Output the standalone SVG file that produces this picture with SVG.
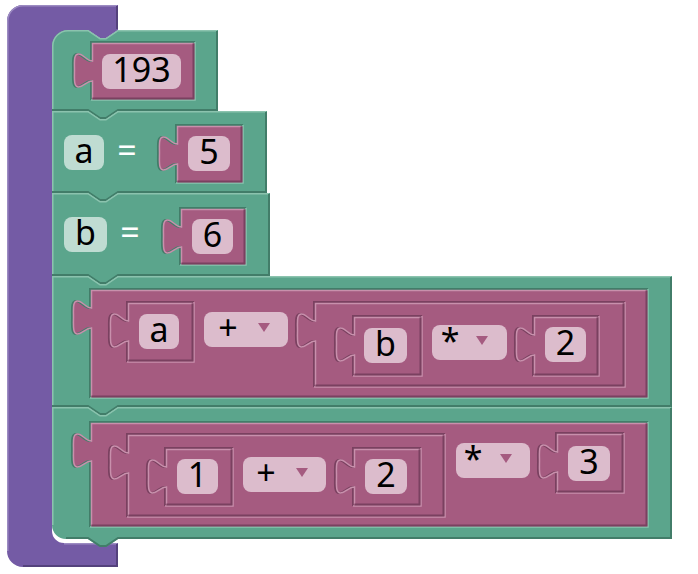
<svg xmlns="http://www.w3.org/2000/svg" width="698" height="574" viewBox="0 0 698 574">
<style>
.u{fill:#745ba5}
.ul{fill:none;stroke:#9c8bc2;stroke-width:1.5}
.ud{fill:none;stroke:#54427c;stroke-width:2}
.g{fill:#5ba58c}
.gl{fill:none;stroke:#8bc3ae;stroke-width:1.5}
.gd{fill:none;stroke:#427d69;stroke-width:2}
.p{fill:#a55b80}
.pl{fill:none;stroke:#c890ac;stroke-width:1.5}
.pd{fill:none;stroke:#7a4160;stroke-width:2}
.fp{fill:#dcbccc}
.fg{fill:#bfdcd2}
.tri{fill:#a55b80}
text{font-family:"Noto Sans","Open Sans","DejaVu Sans",sans-serif;font-size:34px;text-anchor:middle;fill:#000}
text.w{fill:#fff}
</style>
<rect width="698" height="574" fill="#fff"/>
<g id="procedure">
<path class="u" d="M7,21 A16,16 0 0 1 23,5 H118 V30 L106,38 H100 L88,30 H70 V50 H52 V531 A12,12 0 0 0 64,543 H118 V567 H23 A16,16 0 0 1 7,551 Z"/>
<path class="ul" d="M7.75,551 V21 A15.25,15.25 0 0 1 23,5.75 H117"/>
<path class="ud" d="M117,6 V29"/>
<path class="ul" d="M64,543.75 H117"/>
<path class="ud" d="M117,544 V566 H23"/>
</g>
<g id="connectors"></g>
<g id="stmt1">
<path class="g" d="M52,46 A16,16 0 0 1 68,30 H88 L100,38 H106 L118,30 H218 V111 H118 L106,119 H100 L88,111 H52 Z"/>
<path class="gl" d="M52.75,110 V46 A15.25,15.25 0 0 1 68,30.75 H88 L100,38.75 H106 L118,30.75 H217"/>
<path class="gd" d="M217,31 V110 H118 L106,118 H100 L88,110 H52"/>
<g id="num193">
<path class="p" d="M91,42 H195 V100 H91 V81 c-6,0 -9,6 -14,6 c-5,0 -4,-9 -4,-17 c0,-8 -1,-16 4,-16 c5,0 8,7 14,7 Z"/>
<path class="gd" d="M91,100 V81 c-6,0 -9,6 -14,6 c-5,0 -4,-9 -4,-17 c0,-8 -1,-16 4,-16 c5,0 8,7 14,7 V42 H195"/>
<path class="gl" d="M195,42 V100 H91"/>
<path class="pl" d="M92.5,98.5 V81 c-6,0 -9,6 -14,6 c-5,0 -4,-9 -4,-17 c0,-8 -1,-16 4,-16 c5,0 8,7 14,7 V43.5 H193.5"/>
<path class="pd" d="M193.5,43.5 V98.5 H92.5"/>
<rect class="fp" x="102" y="54" width="79" height="35" rx="8"/>
<text x="141.5" y="82">193</text>
</g>
</g>
<g id="stmt2">
<path class="g" d="M52,111 H88 L100,119 H106 L118,111 H267 V193 H118 L106,201 H100 L88,193 H52 Z"/>
<path class="gl" d="M52.75,192 V111.75 H88 L100,119.75 H106 L118,111.75 H266"/>
<path class="gd" d="M266,112 V192 H118 L106,200 H100 L88,192 H52"/>
<rect class="fg" x="64" y="135" width="40" height="35" rx="8"/>
<text x="84" y="163">a</text>
<text class="w" x="127" y="163">=</text>
<g id="num5">
<path class="p" d="M176,125 H243 V183 H176 V164 c-6,0 -9,6 -14,6 c-5,0 -4,-9 -4,-17 c0,-8 -1,-16 4,-16 c5,0 8,7 14,7 Z"/>
<path class="gd" d="M176,183 V164 c-6,0 -9,6 -14,6 c-5,0 -4,-9 -4,-17 c0,-8 -1,-16 4,-16 c5,0 8,7 14,7 V125 H243"/>
<path class="gl" d="M243,125 V183 H176"/>
<path class="pl" d="M177.5,181.5 V164 c-6,0 -9,6 -14,6 c-5,0 -4,-9 -4,-17 c0,-8 -1,-16 4,-16 c5,0 8,7 14,7 V126.5 H241.5"/>
<path class="pd" d="M241.5,126.5 V181.5 H177.5"/>
<rect class="fp" x="188" y="136" width="42" height="35" rx="8"/>
<text x="209" y="164">5</text>
</g>
</g>
<g id="stmt3">
<path class="g" d="M52,193 H88 L100,201 H106 L118,193 H270 V276 H118 L106,284 H100 L88,276 H52 Z"/>
<path class="gl" d="M52.75,275 V193.75 H88 L100,201.75 H106 L118,193.75 H269"/>
<path class="gd" d="M269,194 V275 H118 L106,283 H100 L88,275 H52"/>
<rect class="fg" x="64" y="217" width="43" height="35" rx="8"/>
<text x="85.5" y="245">b</text>
<text class="w" x="130" y="245">=</text>
<g id="num6">
<path class="p" d="M180,208 H246 V265 H180 V247 c-6,0 -9,6 -14,6 c-5,0 -4,-9 -4,-17 c0,-8 -1,-16 4,-16 c5,0 8,7 14,7 Z"/>
<path class="gd" d="M180,265 V247 c-6,0 -9,6 -14,6 c-5,0 -4,-9 -4,-17 c0,-8 -1,-16 4,-16 c5,0 8,7 14,7 V208 H246"/>
<path class="gl" d="M246,208 V265 H180"/>
<path class="pl" d="M181.5,263.5 V247 c-6,0 -9,6 -14,6 c-5,0 -4,-9 -4,-17 c0,-8 -1,-16 4,-16 c5,0 8,7 14,7 V209.5 H244.5"/>
<path class="pd" d="M244.5,209.5 V263.5 H181.5"/>
<rect class="fp" x="192" y="219" width="41" height="35" rx="8"/>
<text x="212.5" y="247">6</text>
</g>
</g>
<g id="stmt4">
<path class="g" d="M52,276 H88 L100,284 H106 L118,276 H672 V407 H118 L106,415 H100 L88,407 H52 Z"/>
<path class="gl" d="M52.75,406 V276.75 H88 L100,284.75 H106 L118,276.75 H671"/>
<path class="gd" d="M671,277 V406 H118 L106,414 H100 L88,406 H52"/>
<g id="expr_a_plus_bx2">
<path class="p" d="M90,289 H648 V398 H90 V328 c-6,0 -9,6 -14,6 c-5,0 -4,-9 -4,-17 c0,-8 -1,-16 4,-16 c5,0 8,7 14,7 Z"/>
<path class="gd" d="M90,398 V328 c-6,0 -9,6 -14,6 c-5,0 -4,-9 -4,-17 c0,-8 -1,-16 4,-16 c5,0 8,7 14,7 V289 H648"/>
<path class="gl" d="M648,289 V398 H90"/>
<path class="pl" d="M91.5,396.5 V328 c-6,0 -9,6 -14,6 c-5,0 -4,-9 -4,-17 c0,-8 -1,-16 4,-16 c5,0 8,7 14,7 V290.5 H646.5"/>
<path class="pd" d="M646.5,290.5 V396.5 H91.5"/>
<g id="var_a">
<path class="p" d="M127,302 H194 V362 H127 V341 c-6,0 -9,6 -14,6 c-5,0 -4,-9 -4,-17 c0,-8 -1,-16 4,-16 c5,0 8,7 14,7 Z"/>
<path class="pd" d="M127,362 V341 c-6,0 -9,6 -14,6 c-5,0 -4,-9 -4,-17 c0,-8 -1,-16 4,-16 c5,0 8,7 14,7 V302 H194"/>
<path class="pl" d="M194,302 V362 H127"/>
<path class="pl" d="M128.5,360.5 V341 c-6,0 -9,6 -14,6 c-5,0 -4,-9 -4,-17 c0,-8 -1,-16 4,-16 c5,0 8,7 14,7 V303.5 H192.5"/>
<path class="pd" d="M192.5,303.5 V360.5 H128.5"/>
<rect class="fp" x="139" y="314" width="40" height="35" rx="8"/>
<text x="159" y="342">a</text>
</g>
<rect class="fp" x="204" y="312" width="84" height="35" rx="8"/>
<text x="228" y="340">+</text>
<polygon class="tri" points="258,323 270,323 264,332"/>
<g id="expr_b_times_2">
<path class="p" d="M314,302 H625 V387 H314 V341 c-6,0 -9,6 -14,6 c-5,0 -4,-9 -4,-17 c0,-8 -1,-16 4,-16 c5,0 8,7 14,7 Z"/>
<path class="pd" d="M314,387 V341 c-6,0 -9,6 -14,6 c-5,0 -4,-9 -4,-17 c0,-8 -1,-16 4,-16 c5,0 8,7 14,7 V302 H625"/>
<path class="pl" d="M625,302 V387 H314"/>
<path class="pl" d="M315.5,385.5 V341 c-6,0 -9,6 -14,6 c-5,0 -4,-9 -4,-17 c0,-8 -1,-16 4,-16 c5,0 8,7 14,7 V303.5 H623.5"/>
<path class="pd" d="M623.5,303.5 V385.5 H315.5"/>
<g id="var_b">
<path class="p" d="M353,316 H422 V376 H353 V355 c-6,0 -9,6 -14,6 c-5,0 -4,-9 -4,-17 c0,-8 -1,-16 4,-16 c5,0 8,7 14,7 Z"/>
<path class="pd" d="M353,376 V355 c-6,0 -9,6 -14,6 c-5,0 -4,-9 -4,-17 c0,-8 -1,-16 4,-16 c5,0 8,7 14,7 V316 H422"/>
<path class="pl" d="M422,316 V376 H353"/>
<path class="pl" d="M354.5,374.5 V355 c-6,0 -9,6 -14,6 c-5,0 -4,-9 -4,-17 c0,-8 -1,-16 4,-16 c5,0 8,7 14,7 V317.5 H420.5"/>
<path class="pd" d="M420.5,317.5 V374.5 H354.5"/>
<rect class="fp" x="364" y="328" width="43" height="35" rx="8"/>
<text x="385.5" y="356">b</text>
</g>
<rect class="fp" x="432" y="325" width="75" height="35" rx="8"/>
<text x="450" y="353">*</text>
<polygon class="tri" points="476,336 488,336 482,345"/>
<g id="num2a">
<path class="p" d="M533,316 H599 V376 H533 V355 c-6,0 -9,6 -14,6 c-5,0 -4,-9 -4,-17 c0,-8 -1,-16 4,-16 c5,0 8,7 14,7 Z"/>
<path class="pd" d="M533,376 V355 c-6,0 -9,6 -14,6 c-5,0 -4,-9 -4,-17 c0,-8 -1,-16 4,-16 c5,0 8,7 14,7 V316 H599"/>
<path class="pl" d="M599,316 V376 H533"/>
<path class="pl" d="M534.5,374.5 V355 c-6,0 -9,6 -14,6 c-5,0 -4,-9 -4,-17 c0,-8 -1,-16 4,-16 c5,0 8,7 14,7 V317.5 H597.5"/>
<path class="pd" d="M597.5,317.5 V374.5 H534.5"/>
<rect class="fp" x="545" y="327" width="41" height="35" rx="8"/>
<text x="565.5" y="355">2</text>
</g>
</g>
</g>
</g>
<g id="stmt5">
<path class="g" d="M52,407 H88 L100,415 H106 L118,407 H672 V539 H118 L106,547 H100 L88,539 H66 A14,14 0 0 1 52,525 Z"/>
<path class="gl" d="M52.75,525 V407.75 H88 L100,415.75 H106 L118,407.75 H671"/>
<path class="gd" d="M671,408 V538 H118 L106,546 H100 L88,538 H66"/>
<g id="expr_1p2_times_3">
<path class="p" d="M90,422 H648 V527 H90 V461 c-6,0 -9,6 -14,6 c-5,0 -4,-9 -4,-17 c0,-8 -1,-16 4,-16 c5,0 8,7 14,7 Z"/>
<path class="gd" d="M90,527 V461 c-6,0 -9,6 -14,6 c-5,0 -4,-9 -4,-17 c0,-8 -1,-16 4,-16 c5,0 8,7 14,7 V422 H648"/>
<path class="gl" d="M648,422 V527 H90"/>
<path class="pl" d="M91.5,525.5 V461 c-6,0 -9,6 -14,6 c-5,0 -4,-9 -4,-17 c0,-8 -1,-16 4,-16 c5,0 8,7 14,7 V423.5 H646.5"/>
<path class="pd" d="M646.5,423.5 V525.5 H91.5"/>
<g id="expr_1_plus_2">
<path class="p" d="M127,434 H445 V517 H127 V473 c-6,0 -9,6 -14,6 c-5,0 -4,-9 -4,-17 c0,-8 -1,-16 4,-16 c5,0 8,7 14,7 Z"/>
<path class="pd" d="M127,517 V473 c-6,0 -9,6 -14,6 c-5,0 -4,-9 -4,-17 c0,-8 -1,-16 4,-16 c5,0 8,7 14,7 V434 H445"/>
<path class="pl" d="M445,434 V517 H127"/>
<path class="pl" d="M128.5,515.5 V473 c-6,0 -9,6 -14,6 c-5,0 -4,-9 -4,-17 c0,-8 -1,-16 4,-16 c5,0 8,7 14,7 V435.5 H443.5"/>
<path class="pd" d="M443.5,435.5 V515.5 H128.5"/>
<g id="num1">
<path class="p" d="M165,448 H233 V506 H165 V487 c-6,0 -9,6 -14,6 c-5,0 -4,-9 -4,-17 c0,-8 -1,-16 4,-16 c5,0 8,7 14,7 Z"/>
<path class="pd" d="M165,506 V487 c-6,0 -9,6 -14,6 c-5,0 -4,-9 -4,-17 c0,-8 -1,-16 4,-16 c5,0 8,7 14,7 V448 H233"/>
<path class="pl" d="M233,448 V506 H165"/>
<path class="pl" d="M166.5,504.5 V487 c-6,0 -9,6 -14,6 c-5,0 -4,-9 -4,-17 c0,-8 -1,-16 4,-16 c5,0 8,7 14,7 V449.5 H231.5"/>
<path class="pd" d="M231.5,449.5 V504.5 H166.5"/>
<rect class="fp" x="177" y="459" width="41" height="35" rx="8"/>
<text x="197.5" y="487">1</text>
</g>
<rect class="fp" x="243" y="457" width="83" height="35" rx="8"/>
<text x="266" y="485">+</text>
<polygon class="tri" points="296,468 308,468 302,477"/>
<g id="num2b">
<path class="p" d="M353,448 H421 V506 H353 V487 c-6,0 -9,6 -14,6 c-5,0 -4,-9 -4,-17 c0,-8 -1,-16 4,-16 c5,0 8,7 14,7 Z"/>
<path class="pd" d="M353,506 V487 c-6,0 -9,6 -14,6 c-5,0 -4,-9 -4,-17 c0,-8 -1,-16 4,-16 c5,0 8,7 14,7 V448 H421"/>
<path class="pl" d="M421,448 V506 H353"/>
<path class="pl" d="M354.5,504.5 V487 c-6,0 -9,6 -14,6 c-5,0 -4,-9 -4,-17 c0,-8 -1,-16 4,-16 c5,0 8,7 14,7 V449.5 H419.5"/>
<path class="pd" d="M419.5,449.5 V504.5 H354.5"/>
<rect class="fp" x="365" y="459" width="42" height="35" rx="8"/>
<text x="386" y="487">2</text>
</g>
</g>
<rect class="fp" x="456" y="443" width="74" height="35" rx="8"/>
<text x="473" y="471">*</text>
<polygon class="tri" points="500,454 512,454 506,463"/>
<g id="num3">
<path class="p" d="M556,433 H624 V493 H556 V472 c-6,0 -9,6 -14,6 c-5,0 -4,-9 -4,-17 c0,-8 -1,-16 4,-16 c5,0 8,7 14,7 Z"/>
<path class="pd" d="M556,493 V472 c-6,0 -9,6 -14,6 c-5,0 -4,-9 -4,-17 c0,-8 -1,-16 4,-16 c5,0 8,7 14,7 V433 H624"/>
<path class="pl" d="M624,433 V493 H556"/>
<path class="pl" d="M557.5,491.5 V472 c-6,0 -9,6 -14,6 c-5,0 -4,-9 -4,-17 c0,-8 -1,-16 4,-16 c5,0 8,7 14,7 V434.5 H622.5"/>
<path class="pd" d="M622.5,434.5 V491.5 H557.5"/>
<rect class="fp" x="568" y="446" width="42" height="35" rx="8"/>
<text x="589" y="474">3</text>
</g>
</g>
</g>
</svg>
